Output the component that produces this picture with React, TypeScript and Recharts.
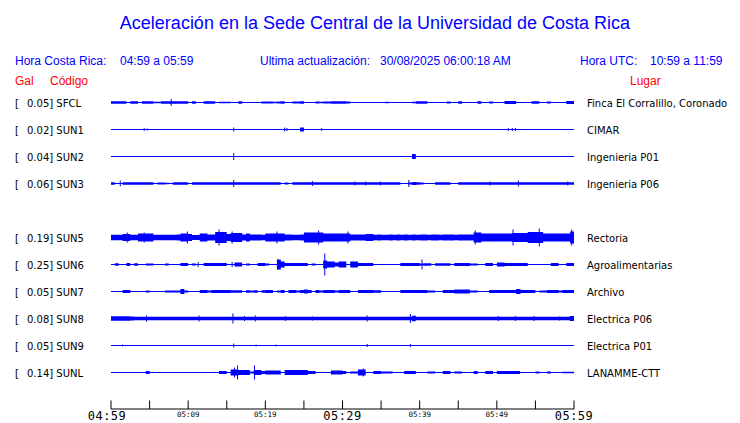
import React from 'react';
import { ComposedChart, Area, Scatter, ErrorBar, XAxis, YAxis, ReferenceLine } from 'recharts';

// estaciones (la fila de SUN4 queda vacia)
const codes = ['SFCL', 'SUN1', 'SUN2', 'SUN3', 'SUN5', 'SUN6', 'SUN7', 'SUN8', 'SUN9', 'SUNL'];
const places = [
  'Finca El Corralillo, Coronado', 'CIMAR', 'Ingenieria P01', 'Ingenieria P06', 'Rectoria',
  'Agroalimentarias', 'Archivo', 'Electrica P06', 'Electrica P01', 'LANAMME-CTT',
];
const galValues = ['0.05', '0.02', '0.04', '0.06', '0.19', '0.25', '0.05', '0.08', '0.05', '0.14'];
const rows = [0, 1, 2, 3, 5, 6, 7, 8, 9, 10];

// envolvente de cada traza, un valor por medio minuto (120 valores, 04:59 -> 05:59)
const sfclEnv = [
  1.3, 1.3, 1.3, 1.3, 0.5, 1.3, 1.3, 0.5, 1.3, 1.3, 1.3, 0.7, 0.7, 1.3, 1.3, 1.3, 1.3, 1.3, 1.3, 1.3,
  0, 1.3, 0.3, 0.3, 1.3, 1.3, 1.3, 0.5, 0.7, 0.7, 0.7, 0.5, 0.5, 1.3, 0.3, 0.3, 0.3, 0.3, 0.3, 1,
  1, 1, 0.7, 1, 1.3, 0.5, 0.5, 1, 1, 1.3, 0.5, 0.5, 0.5, 1, 0.7, 1, 1, 1.3, 1.3, 1.3,
  1.3, 1, 0.3, 0.3, 0.5, 0.3, 0.3, 0.5, 0.3, 0.5, 0.3, 0.7, 0.3, 0.3, 0.5, 0.3, 0.5, 0.5, 0.7, 1.3,
  1.3, 1.3, 0.3, 0.3, 0.3, 0.3, 0.3, 1, 0.3, 0.3, 1.3, 0.5, 0.3, 0.5, 0.3, 1.3, 0.3, 0.3, 1, 0.3,
  0.3, 0.5, 1.5, 1.5, 1.5, 0.3, 0.5, 0.3, 0.5, 1.3, 1.3, 0.5, 0.3, 1, 0.3, 0.3, 0.5, 0.3, 1.5, 1.5,
];
const sun1Env = [
  0, 0, 0, 0, 0, 0, 0, 0, 0, 0, 0, 0, 0, 0, 0, 0, 0, 0, 0, 0,
  0, 0, 0, 0, 0, 0, 0, 0, 0, 0, 0, 0, 0, 0, 0, 0, 0, 0, 0, 0,
  0, 0, 0, 0, 0, 0, 0, 0, 0, 2, 0, 0, 0, 0, 0, 0, 0, 0, 0, 0,
  0, 0, 0, 0, 0, 0, 0, 0, 0, 0, 0, 0, 0, 0, 0, 0, 0, 0, 0, 0,
  0, 0, 0, 0, 0, 0, 0, 0, 0, 0, 0, 0, 0, 0, 0, 0, 0, 0, 0, 0,
  0, 0, 0, 0, 0, 0, 0, 0, 0, 0, 0, 0, 0, 0, 0, 0, 0, 0, 0, 0,
];
const sun2Env = [
  0, 0, 0, 0, 0, 0, 0, 0, 0, 0, 0, 0, 0, 0, 0, 0, 0, 0, 0, 0,
  0, 0, 0, 0, 0, 0, 0, 0, 0, 0, 0, 0, 0, 0, 0, 0, 0, 0, 0, 0,
  0, 0, 0, 0, 0, 0, 0, 0, 0, 0, 0, 0, 0, 0, 0, 0, 0, 0, 0, 0,
  0, 0, 0, 0, 0, 0, 0, 0, 0, 0, 0, 0, 0, 0, 0, 0, 0, 0, 2.5, 0,
  0, 0, 0, 0, 0, 0, 0, 0, 0, 0, 0, 0, 0, 0, 0, 0, 0, 0, 0, 0,
  0, 0, 0, 0, 0, 0, 0, 0, 0, 0, 0, 0, 0, 0, 0, 0, 0, 0, 0, 0,
];
const sun3Env = [
  1.2, 0.6, 0.6, 1.2, 1.2, 1.2, 1.2, 1.2, 1.2, 1.2, 1.2, 0.6, 1, 1, 0.8, 0.6, 1.2, 1.2, 1.2, 1.2,
  0.6, 1.2, 1.2, 1.2, 1.2, 1.2, 1.2, 1.2, 1.2, 1.2, 1.2, 1.2, 1.2, 1.2, 1.2, 1.2, 1.2, 1.2, 1.2, 1.2,
  1.2, 1.2, 1.2, 1.2, 0.6, 1, 0.6, 1.2, 1.2, 1.2, 1.2, 1.2, 1.2, 1.2, 1.2, 1.2, 1.2, 1.2, 1.2, 1.2,
  1.2, 1.2, 1.2, 1.2, 1.2, 1.2, 1.2, 1.2, 1.2, 1.2, 1.2, 1.2, 1.2, 1.2, 1.2, 0.5, 0.5, 1, 1.6, 1.2,
  1, 0.6, 0.6, 0.6, 1.2, 1.2, 1.2, 1.2, 0.6, 0.6, 1.2, 1.2, 1.2, 1.2, 1.2, 1.2, 1.2, 1.2, 1.2, 1.2,
  1.2, 1.2, 1.2, 1.2, 1.2, 1.2, 1.2, 1.2, 1.2, 1.2, 1.2, 1.2, 1.2, 1.2, 1.2, 1.2, 1.2, 1.2, 1.2, 1.2,
];
const sun5Env = [
  2.7, 2.7, 2.7, 3.5, 3.5, 2.7, 2.7, 4, 4, 4, 4, 2.7, 2.7, 2.7, 2.7, 2.7, 2.7, 3, 4, 4,
  3.5, 2.5, 2.5, 4, 4, 3, 3, 5.5, 5.5, 5.5, 3.5, 4.5, 4.5, 4.5, 3, 4, 3, 3, 3, 2.7,
  4, 4, 4, 4, 4, 3, 3, 2.7, 2.7, 3, 5, 5, 5, 5, 5, 4, 4, 4, 4, 4,
  4, 4, 3, 3, 3, 3, 3.5, 3.5, 2.7, 3, 2.7, 2.7, 3, 2.7, 3, 2.7, 3, 2.7, 3, 2.7,
  3, 3, 2.7, 3, 3, 2.7, 3, 3, 3, 2.7, 3, 3, 3, 3, 5, 5, 4, 4, 4, 4,
  4, 4, 4, 4, 4.5, 4.5, 4.5, 4.5, 5.5, 5.5, 5.5, 5.5, 4, 4, 4, 4, 4, 4, 4, 6,
];
const sun6Env = [
  0, 1.2, 0, 0, 1.5, 0, 1.2, 0, 0, 1, 1, 0, 0, 0, 1, 0, 0, 0, 1.5, 1.5,
  0, 1, 0.5, 0, 1.5, 1.5, 1.5, 1.5, 1.5, 1.5, 0, 0.5, 2, 2, 0, 1, 0, 0, 1.5, 1.5,
  1, 0, 0, 5, 3, 1.5, 1.5, 1.5, 1.5, 1.5, 1.5, 0, 1, 0, 0, 4, 3, 3, 2, 3,
  3, 0, 3, 3, 1.5, 1.5, 1.5, 1.5, 0.5, 0, 0.5, 0, 0, 0.5, 0, 1.5, 1.5, 1.5, 1.5, 1.5,
  1, 1.2, 1.2, 0, 1.2, 1.2, 1.2, 1.2, 0, 1.5, 1.5, 1.5, 1.5, 1, 1, 0, 0, 1.5, 1.5, 0.5,
  2, 2, 1.5, 1.5, 1.5, 1.5, 1.5, 1.5, 0, 0, 0, 0, 0.5, 0, 1.5, 1.5, 0, 0, 1.5, 1.5,
];
const sun7Env = [
  0, 0.5, 0, 1.5, 1.5, 0, 0, 0, 0, 1, 0, 0, 0.5, 0, 1, 1, 1, 1, 2.5, 1,
  0, 0.5, 0.5, 1.5, 1.5, 1, 1.5, 1.5, 1.5, 1.5, 1.5, 1.2, 1.2, 1.2, 0.5, 1.2, 1, 1.2, 0, 1.2,
  1.5, 1.5, 0, 1, 1.5, 0, 1.5, 1.5, 1, 1.5, 2, 1.5, 0, 1.5, 1, 1.5, 1.5, 1.5, 1, 1.5,
  1.5, 1.5, 0.5, 0, 1.5, 1.5, 1.5, 1.5, 1.2, 1.2, 0.5, 0, 0.5, 0, 0, 1.5, 1.5, 1.5, 1.5, 1.5,
  1.5, 1.5, 1, 1, 0, 0, 1.5, 1.5, 1.5, 2, 2, 2, 2, 1, 1, 0, 0, 0, 1.5, 1.5,
  1.5, 1.5, 1.5, 1.5, 1.5, 2.5, 1.5, 1.5, 1.5, 1.5, 0.5, 1, 1, 1.5, 1.5, 1.5, 1, 1.5, 1.5, 1.5,
];
const sun8Env = [
  2.2, 2.2, 2.2, 2.2, 2.2, 2, 1.8, 1.8, 1.8, 1.8, 1.8, 1.8, 1.8, 1.8, 1.8, 1.8, 1.8, 1.8, 1.8, 1.8,
  1.8, 1.8, 1.8, 1.8, 1.8, 1.8, 1.8, 1.8, 1.8, 1.8, 1.8, 1.8, 1.8, 1.8, 1.8, 1.8, 1.8, 1.8, 1.8, 1.8,
  1.8, 1.8, 1.8, 1.8, 1.8, 1.8, 1.8, 1.8, 1.8, 1.8, 1.8, 1.8, 1.8, 1.8, 1.8, 1.8, 1.8, 1.8, 1.8, 1.8,
  1.8, 1.8, 1.8, 1.8, 1.8, 1.8, 1.8, 1.8, 1.8, 1.8, 1.8, 1.8, 1.8, 1.8, 1.8, 1.8, 1.8, 1.8, 2.8, 1.8,
  1.8, 1.8, 1.8, 1.8, 1.8, 1.8, 1.8, 1.8, 1.8, 1.8, 1.8, 1.8, 1.8, 1.8, 1.8, 1.8, 1.8, 1.8, 1.8, 1.8,
  1.8, 1.8, 1.8, 1.8, 1.8, 1.8, 1.8, 1.8, 1.8, 1.8, 1.8, 1.8, 1.8, 1.8, 1.8, 1.8, 1.8, 1.8, 1.8, 2.5,
];
const sun9Env = [
  0, 0, 0, 0, 0, 0, 0, 0, 0, 0, 0, 0, 0, 0, 0, 0, 0, 0, 0, 0,
  0, 0, 0, 0, 0, 0, 0, 0, 0, 0, 0, 0, 0, 0, 0, 0, 0, 0, 0, 0,
  0, 0, 0, 0, 0, 0, 0, 0, 0, 0, 0, 0, 0, 0, 0, 0, 0, 0, 0, 0,
  0, 0, 0, 0, 0, 0, 0, 0, 0, 0, 0, 0, 0, 0, 0, 0, 0, 0, 0, 0,
  0, 0, 0, 0, 0, 0, 0, 0, 0, 0, 0, 0, 0, 0, 0, 0, 0, 0, 0, 0,
  0, 0, 0, 0, 0, 0, 0, 0, 0, 0, 0, 0, 0, 0, 0, 0, 0, 0, 0, 0,
];
const sunlEnv = [
  0, 0, 0.5, 0.5, 0, 0, 0, 0, 0, 1.5, 0, 0, 0, 0, 0, 0, 0, 0, 0.5, 0.5,
  0.5, 0, 0, 0, 0, 0, 0, 0, 1.5, 1.5, 0, 3, 3, 2.5, 2.5, 2.5, 1, 2.5, 2.5, 1.5,
  2, 2, 2, 2, 0, 2.5, 2.5, 2.5, 2.5, 2.5, 2.5, 1.5, 1.5, 0, 0.5, 0, 0, 2, 2, 2,
  1.5, 0, 1, 1, 3, 3, 0, 0, 1.5, 1.5, 1, 1, 1, 0.5, 0, 0, 1.5, 1.5, 1.5, 0,
  0, 0, 1, 1, 0, 0, 1.5, 1.5, 0, 1, 1, 0, 0, 0, 1.5, 0, 0, 1.5, 1.5, 0,
  1.5, 1.5, 1.5, 1.5, 1.5, 1.5, 0, 0, 0, 0, 1, 0, 0, 1, 0, 0, 0, 0.8, 0.8, 0.8,
];

// picos aislados: [minuto, amplitud]
const sfclSpikes = [[7.8, 3.5]];
const sun1Spikes = [[4.3, 1.5], [4.7, 1], [15.9, 2], [22.5, 2], [22.8, 1.5], [27.3, 1.5], [51.5, 1.5], [52.0, 1.5], [52.4, 1.5]];
const sun2Spikes = [[15.9, 3.5]];
const sun3Spikes = [[1.2, 3], [15.9, 3.5], [26.1, 2.5], [31.6, 2], [33.0, 2], [34.9, 2], [38.6, 3.5], [49.1, 2], [52.8, 3], [59.2, 2]];
const sun5Spikes = [[2.1, 5], [4.3, 5], [9.9, 6], [14.0, 8], [15.7, 6], [21.5, 6], [26.9, 7], [30.7, 6], [47.2, 7], [52.1, 8], [55.5, 9], [59.7, 8]];
const sun6Spikes = [[11.3, 2.5], [15.7, 2.5], [21.6, 5], [27.7, 11], [40.3, 5]];
const sun7Spikes = [[9.2, 2.5], [53.0, 2.5]];
const sun8Spikes = [[4.6, 3], [11.4, 3], [15.8, 5], [17.3, 2.5], [18.7, 3], [22.6, 2.5], [26.1, 2], [33.2, 3], [38.8, 4.5], [50.2, 2.5], [52.4, 2.5], [54.8, 2.5], [58.1, 2], [59.5, 2.5]];
const sun9Spikes = [[1.5, 1], [15.9, 2], [18.8, 1], [21.4, 1], [33.2, 1.5], [38.8, 1.5]];
const sunlSpikes = [[16.0, 5], [16.4, 7], [18.6, 7], [32.7, 4]];

const envs = [sfclEnv, sun1Env, sun2Env, sun3Env, sun5Env, sun6Env, sun7Env, sun8Env, sun9Env, sunlEnv];
const spikes = [sfclSpikes, sun1Spikes, sun2Spikes, sun3Spikes, sun5Spikes, sun6Spikes, sun7Spikes, sun8Spikes, sun9Spikes, sunlSpikes];

const timeTicks = [0, 5, 10, 15, 20, 25, 30, 35, 40, 45, 50, 55, 60];
const timeLabels = ['04:59', '', '05:09', '', '05:19', '', '05:29', '', '05:39', '', '05:49', '', '05:59'];
const majorTicks = [0, 30, 60];

const BIN = 0.5;
const ROW_PX = 27;
const PX = 1 / ROW_PX;
const TOP = 89;
const AXIS_Y = 409;
const BLUE = '#0000ff';

const table = Array.from({ length: 121 }, (_, i) => {
  const row: any = { t: i * BIN };
  envs.forEach((env, s) => {
    const a = env[Math.min(i, env.length - 1)] * PX;
    const b = rows[s] + 0.5;
    row[codes[s]] = [b - a, b + a];
  });
  return row;
});

const spikeData = spikes.map((list, s) =>
  list.map(([t, a]) => ({ t, y: rows[s] + 0.5, err: a * PX }))
);

const rowTicks = rows.map((r) => r + 0.5);

const LeftTick = (props: any) => {
  const { x, y, payload } = props;
  const s = rowTicks.indexOf(payload.value);
  if (s < 0) return null;
  return (
    <text x={x} y={y} dy={4} fontFamily="DejaVu Sans" fontSize={10} fill="#000" textAnchor="start">
      [<tspan x={x + 12}>{galValues[s]}] {codes[s]}</tspan>
    </text>
  );
};

const RightTick = (props: any) => {
  const { x, y, payload } = props;
  const s = rowTicks.indexOf(payload.value);
  if (s < 0) return null;
  return (
    <text x={x} y={y} dy={4} fontFamily="DejaVu Sans" fontSize={10} fill="#000" textAnchor="start">
      {places[s]}
    </text>
  );
};

const TimeTick = (props: any) => {
  const { x, y, payload } = props;
  const i = timeTicks.indexOf(payload.value);
  const label = timeLabels[i];
  const major = majorTicks.includes(payload.value);
  return (
    <g>
      <line x1={x} x2={x} y1={y} y2={y - 8.5} stroke="#000" />
      {label && (
        <text
          x={x}
          y={y + (major ? 10.5 : 7.5)}
          dx={i === 0 ? -4 : 0}
          textAnchor="middle"
          fontFamily="DejaVu Sans Mono"
          fontSize={major ? 12 : 7.5}
          letterSpacing={major ? 0.5 : 0}
          fill="#000"
        >
          {label}
        </text>
      )}
    </g>
  );
};

const noDot = () => <g />;

const head = { fontFamily: 'Liberation Sans', fontSize: 12 };

export default function App() {
  return (
    <div style={{ position: 'absolute', left: 0, top: 0, width: 740, height: 423, background: '#fff' }}>
      <ComposedChart
        width={740}
        height={423}
        data={table}
        margin={{ top: TOP, right: 0, bottom: 0, left: 0 }}
      >
        <XAxis
          dataKey="t"
          type="number"
          domain={[0, 60]}
          ticks={timeTicks}
          interval={0}
          allowDataOverflow
          height={423 - AXIS_Y}
          tickSize={0}
          tickMargin={0}
          tickLine={false}
          axisLine={{ stroke: '#000' }}
          tick={<TimeTick />}
        />
        <YAxis
          yAxisId="left"
          type="number"
          domain={[0, (AXIS_Y - TOP) / ROW_PX]}
          reversed
          allowDataOverflow
          ticks={rowTicks}
          interval={0}
          width={111}
          tickSize={0}
          tickMargin={96}
          tickLine={false}
          axisLine={false}
          tick={<LeftTick />}
        />
        <YAxis
          yAxisId="right"
          orientation="right"
          type="number"
          domain={[0, (AXIS_Y - TOP) / ROW_PX]}
          reversed
          allowDataOverflow
          ticks={rowTicks}
          interval={0}
          width={166}
          tickSize={0}
          tickMargin={13}
          tickLine={false}
          axisLine={false}
          tick={<RightTick />}
        />
        {rows.map((r, s) => (
          <ReferenceLine key={'b' + s} yAxisId="left" y={r + 0.5} stroke={BLUE} strokeWidth={1} />
        ))}
        {codes.map((c) => (
          <Area
            key={c}
            yAxisId="left"
            dataKey={c}
            type="stepAfter"
            stroke="none"
            fill={BLUE}
            fillOpacity={1}
            dot={false}
            activeDot={false}
            isAnimationActive={false}
          />
        ))}
        {codes.map((c, s) => (
          <Scatter
            key={'s' + c}
            yAxisId="left"
            data={spikeData[s]}
            dataKey="y"
            shape={noDot}
            isAnimationActive={false}
          >
            <ErrorBar dataKey="err" direction="y" width={0} stroke={BLUE} strokeWidth={1} isAnimationActive={false} />
          </Scatter>
        ))}
      </ComposedChart>
      <svg width={740} height={423} style={{ position: 'absolute', left: 0, top: 0, pointerEvents: 'none' }}>
        <text x={375} y={28.5} textAnchor="middle" fontFamily="Liberation Sans" fontSize={18} fill={BLUE}>
          Aceleración en la Sede Central de la Universidad de Costa Rica
        </text>
        <text x={15} y={65} {...head} fill={BLUE}>Hora Costa Rica:</text>
        <text x={120} y={65} {...head} fill={BLUE}>04:59 a 05:59</text>
        <text x={260} y={65} {...head} fill={BLUE}>Ultima actualización:</text>
        <text x={380} y={65} {...head} fill={BLUE}>30/08/2025 06:00:18 AM</text>
        <text x={580} y={65} {...head} fill={BLUE}>Hora UTC:</text>
        <text x={650} y={65} {...head} fill={BLUE}>10:59 a 11:59</text>
        <text x={15} y={85} {...head} fill="#ff0000">Gal</text>
        <text x={50} y={85} {...head} fill="#ff0000">Código</text>
        <text x={630} y={85} {...head} fill="#ff0000">Lugar</text>
      </svg>
    </div>
  );
}
